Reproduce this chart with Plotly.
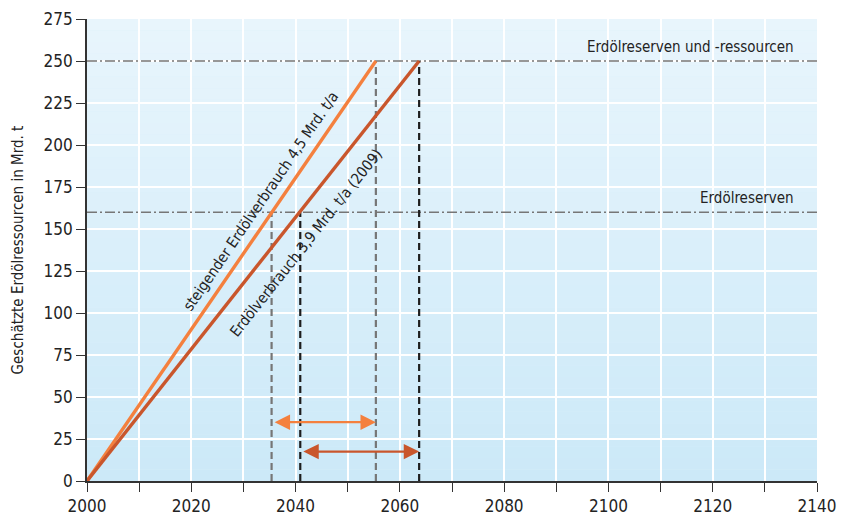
import plotly.graph_objects as go

# ---- data ----
start_year = 2000
resources_total = 250          # Erdölreserven und -ressourcen (Mrd. t)
reserves = 160                 # Erdölreserven (Mrd. t)
rising_end_year = 2055.4       # steigender Verbrauch reaches 250
rising_reserve_year = 2035.4   # steigender Verbrauch reaches 160
const_end_year = 2063.7        # konstanter Verbrauch reaches 250
const_reserve_year = 2040.9    # konstanter Verbrauch reaches 160
arrow_rising_y = 35
arrow_const_y = 17.5
x_ticks = list(range(2000, 2141, 10))
x_labels = [str(v) if v % 20 == 0 else "" for v in x_ticks]
y_ticks = list(range(0, 276, 25))

ORANGE = "#f4803e"
DARK = "#c9562c"
GREY = "#767676"
BLACK = "#1e1e1e"
FONT = "Noto Sans Condensed, DejaVu Sans Condensed, Open Sans"
TXT = "#232323"

fig = go.Figure()

# background gradient bands
n = 40
top = (232, 245, 252)
bot = (204, 233, 248)
for i in range(n):
    t = i / (n - 1)
    c = tuple(round(top[k] + (bot[k] - top[k]) * t) for k in range(3))
    y1 = 275 - 275 * i / n
    y0 = 275 - 275 * (i + 1) / n
    fig.add_shape(type="rect", xref="x", yref="y", x0=2000, x1=2140, y0=y0, y1=y1,
                  fillcolor="rgb(%d,%d,%d)" % c, line_width=0, layer="below")

# horizontal dash-dot reference lines
for yv in (resources_total, reserves):
    fig.add_trace(go.Scatter(x=[2000, 2140], y=[yv, yv], mode="lines",
                             line=dict(color=GREY, width=1.6, dash="10px,3px,2px,3px"),
                             hoverinfo="skip", showlegend=False))

# vertical dashed lines
for xv, yv, col in [(rising_reserve_year, reserves, GREY),
                    (rising_end_year, resources_total, GREY),
                    (const_reserve_year, reserves, BLACK),
                    (const_end_year, resources_total, BLACK)]:
    fig.add_trace(go.Scatter(x=[xv, xv], y=[0, yv], mode="lines",
                             line=dict(color=col, width=2.2, dash="7px,4px"),
                             hoverinfo="skip", showlegend=False))

# consumption lines
fig.add_trace(go.Scatter(x=[start_year, rising_end_year], y=[0, resources_total], mode="lines",
                         line=dict(color=ORANGE, width=3.4), showlegend=False))
fig.add_trace(go.Scatter(x=[start_year, const_end_year], y=[0, resources_total], mode="lines",
                         line=dict(color=DARK, width=3.4), showlegend=False))

# double arrows
for x0, x1, yv, col in [(rising_reserve_year + 0.3, rising_end_year, arrow_rising_y, ORANGE),
                        (const_reserve_year + 0.3, const_end_year, arrow_const_y, DARK)]:
    fig.add_annotation(x=x1, y=yv, ax=x0, ay=yv, xref="x", yref="y", axref="x", ayref="y",
                       text="", showarrow=True, arrowside="end+start", arrowhead=2,
                       arrowsize=1.4, arrowwidth=2.2, arrowcolor=col, standoff=0, startstandoff=0)

# text labels
LBL = 15
fig.add_annotation(x=2136, y=resources_total, yshift=14, text="Erdölreserven und -ressourcen",
                   showarrow=False, xanchor="right", font=dict(family=FONT, size=LBL, color=TXT))
fig.add_annotation(x=2136, y=reserves, yshift=14, text="Erdölreserven",
                   showarrow=False, xanchor="right", font=dict(family=FONT, size=LBL, color=TXT))
fig.add_annotation(x=2033.4, y=166.6, text="steigender Erdölverbrauch 4,5 Mrd. t/a",
                   showarrow=False, textangle=-55.6, font=dict(family=FONT, size=LBL, color=TXT))
fig.add_annotation(x=2042.0, y=141.6, text="Erdölverbrauch 3,9 Mrd. t/a (2009)",
                   showarrow=False, textangle=-51.6, font=dict(family=FONT, size=LBL, color=TXT))

fig.update_layout(
    width=846, height=518,
    margin=dict(l=87, r=29, t=19, b=37),
    paper_bgcolor="white", plot_bgcolor="rgb(218,239,250)",
    font=dict(family=FONT, size=LBL, color=TXT),
    showlegend=False,
)
fig.update_xaxes(range=[2000, 2140], tickvals=x_ticks, ticktext=x_labels, automargin=False,
                 showgrid=True, gridcolor="white", gridwidth=1.6,
                 ticks="outside", ticklen=9, tickcolor="#333", tickwidth=1.2,
                 showline=True, linecolor="#333", linewidth=1.6, zeroline=False,
                 tickfont=dict(size=17))
fig.update_yaxes(range=[0, 275], tickvals=y_ticks, automargin=False,
                 showgrid=True, gridcolor="white", gridwidth=1.6,
                 ticks="outside", ticklen=9, tickcolor="#333", tickwidth=1.2,
                 showline=True, linecolor="#333", linewidth=1.6, zeroline=False,
                 tickfont=dict(size=17),
                 title=dict(text="Geschätzte Erdölressourcen in Mrd. t", font=dict(size=LBL), standoff=16))

fig.write_html("out.html", config={"displayModeBar": False},
               post_script="document.body.style.margin='0';document.body.style.padding='0';")
